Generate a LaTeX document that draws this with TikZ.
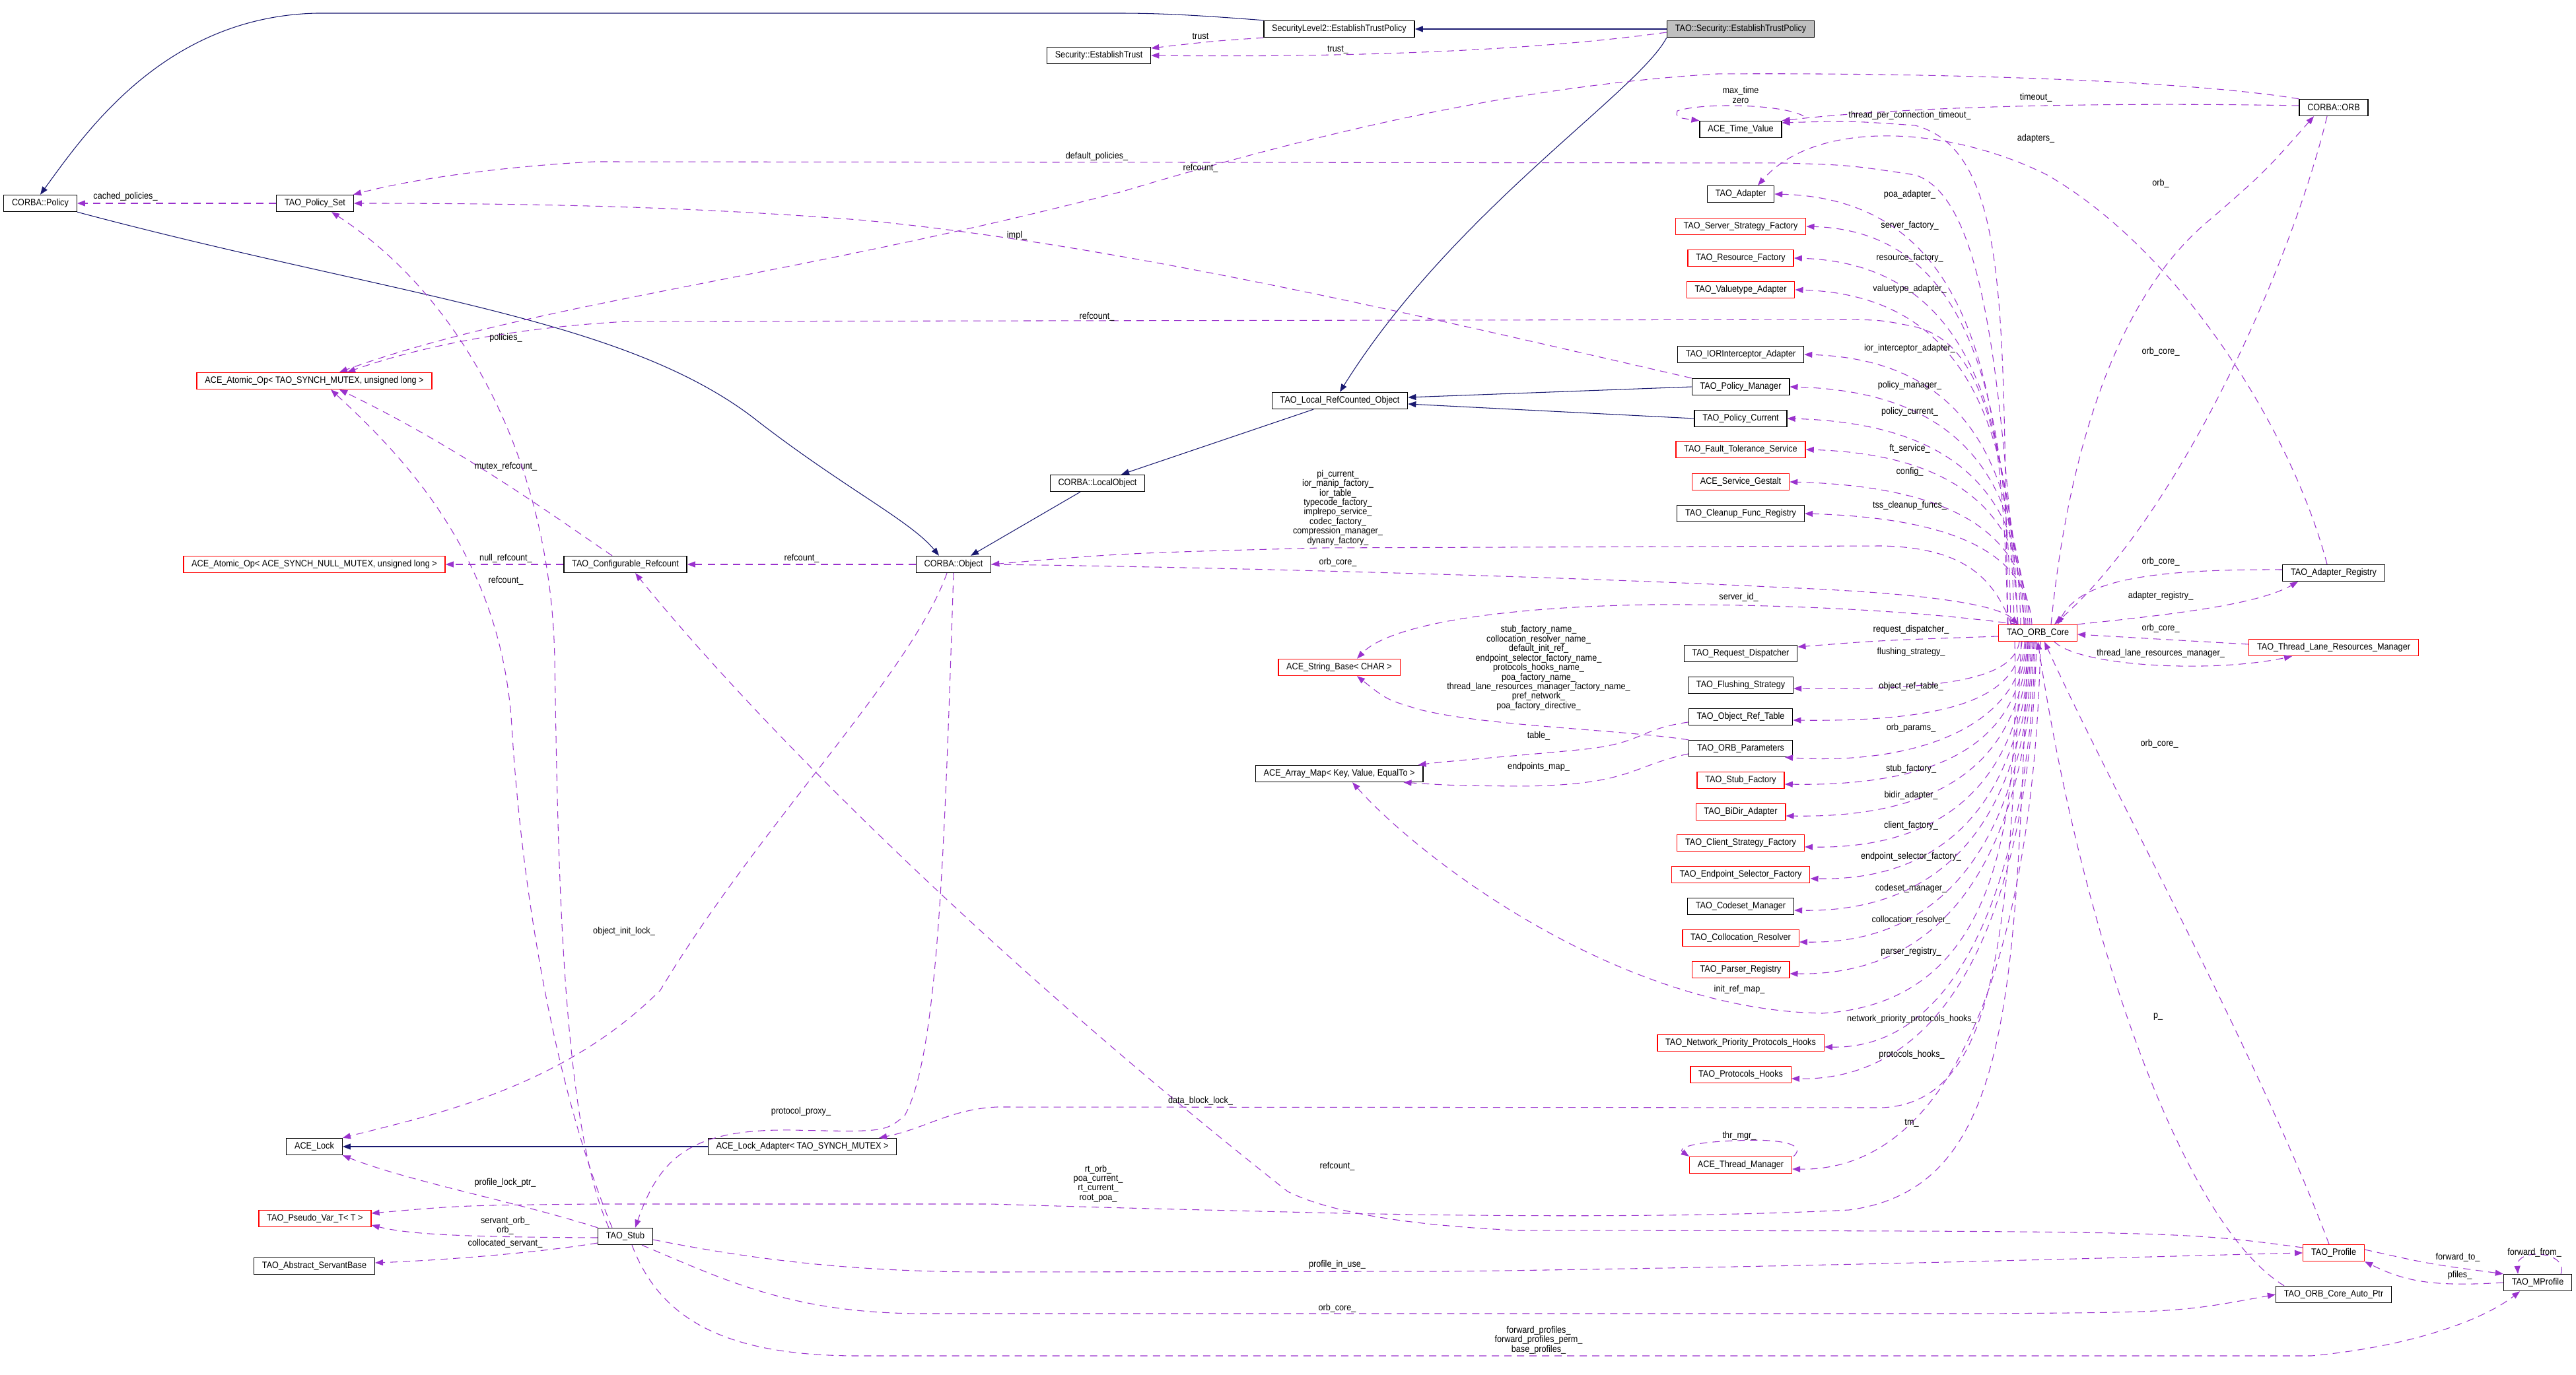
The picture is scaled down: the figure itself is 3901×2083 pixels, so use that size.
\documentclass[tikz,border=0pt]{standalone}
\usepackage{fontspec}
\setmainfont[FakeStretch=0.9]{Liberation Sans}
\usetikzlibrary{arrows.meta}
\definecolor{depc}{HTML}{9A32CD}
\definecolor{inhc}{HTML}{191970}
\newcommand\dxfont{\fontsize{4}{4.1}\selectfont}
\begin{document}
\begin{tikzpicture}[x=0.01cm,y=-0.01cm,
  box/.style={draw=black,line width=0.4pt,fill=white,font=\dxfont,inner xsep=3.5pt,inner ysep=0pt,minimum height=0.25cm},
  rbox/.style={box,draw=red},
  gbox/.style={box,fill=black!25},
  dep/.style={draw=depc,line width=0.3pt,dash pattern=on 0.11cm off 0.08cm,-{Triangle[length=0.12cm,width=0.09cm]}},
  inh/.style={draw=inhc,line width=0.3pt,-{Triangle[length=0.12cm,width=0.09cm]}},
  lbl/.style={font=\dxfont,inner sep=0pt,align=center}]
\useasboundingbox (0,0) rectangle (3901,2083);
% nodes
\node[box] (pol) at (61,308) {CORBA::Policy};
\node[box] (pset) at (477,308) {TAO\_Policy\_Set};
\node[rbox] (aoT) at (476,577) {ACE\_Atomic\_Op{<} TAO\_SYNCH\_MUTEX, unsigned long {>}};
\node[box] (sl2) at (2028,44) {SecurityLevel2::EstablishTrustPolicy};
\node[box] (setr) at (1664,84) {Security::EstablishTrust};
\node[gbox] (tsec) at (2636,44) {TAO::Security::EstablishTrustPolicy};
\node[box] (lrc) at (2029,607) {TAO\_Local\_RefCounted\_Object};
\node[box] (lobj) at (1662,732) {CORBA::LocalObject};
\node[box] (obj) at (1444,855) {CORBA::Object};
\node[box] (cref) at (947,855) {TAO\_Configurable\_Refcount};
\node[rbox] (aoN) at (476,855) {ACE\_Atomic\_Op{<} ACE\_SYNCH\_NULL\_MUTEX, unsigned long {>}};
\node[rbox] (strb) at (2028,1011) {ACE\_String\_Base{<} CHAR {>}};
\node[box] (amap) at (2028,1172) {ACE\_Array\_Map{<} Key, Value, EqualTo {>}};
\node[box] (lock) at (476,1737) {ACE\_Lock};
\node[box] (ladp) at (1215,1737) {ACE\_Lock\_Adapter{<} TAO\_SYNCH\_MUTEX {>}};
\node[rbox] (pvar) at (477,1846) {TAO\_Pseudo\_Var\_T{<} T {>}};
\node[box] (stub) at (947,1873) {TAO\_Stub};
\node[box] (asb) at (476,1918) {TAO\_Abstract\_ServantBase};
\node[box] (orb) at (3534,163) {CORBA::ORB};
\node[box] (tv) at (2636,196) {ACE\_Time\_Value};
\node[box] (adp) at (2636,294) {TAO\_Adapter};
\node[rbox] (ssf) at (2636,343) {TAO\_Server\_Strategy\_Factory};
\node[rbox] (rf) at (2636,391) {TAO\_Resource\_Factory};
\node[rbox] (vta) at (2636,439) {TAO\_Valuetype\_Adapter};
\node[box] (ioria) at (2636,537) {TAO\_IORInterceptor\_Adapter};
\node[box] (pm) at (2636,586) {TAO\_Policy\_Manager};
\node[box] (pc) at (2636,634) {TAO\_Policy\_Current};
\node[rbox] (fts) at (2636,681) {TAO\_Fault\_Tolerance\_Service};
\node[rbox] (sg) at (2636,730) {ACE\_Service\_Gestalt};
\node[box] (cfr) at (2636,778) {TAO\_Cleanup\_Func\_Registry};
\node[rbox] (core) at (3086,959) {TAO\_ORB\_Core};
\node[box] (areg) at (3534,868) {TAO\_Adapter\_Registry};
\node[rbox] (tlrm) at (3534,981) {TAO\_Thread\_Lane\_Resources\_Manager};
\node[box] (rd) at (2636,990) {TAO\_Request\_Dispatcher};
\node[box] (fs) at (2636,1038) {TAO\_Flushing\_Strategy};
\node[box] (ort) at (2636,1086) {TAO\_Object\_Ref\_Table};
\node[box] (orbp) at (2636,1134) {TAO\_ORB\_Parameters};
\node[rbox] (sf) at (2636,1182) {TAO\_Stub\_Factory};
\node[rbox] (bda) at (2636,1230) {TAO\_BiDir\_Adapter};
\node[rbox] (csf) at (2636,1277) {TAO\_Client\_Strategy\_Factory};
\node[rbox] (esf) at (2636,1325) {TAO\_Endpoint\_Selector\_Factory};
\node[box] (csm) at (2636,1373) {TAO\_Codeset\_Manager};
\node[rbox] (cres) at (2636,1421) {TAO\_Collocation\_Resolver};
\node[rbox] (preg) at (2636,1469) {TAO\_Parser\_Registry};
\node[rbox] (npph) at (2636,1580) {TAO\_Network\_Priority\_Protocols\_Hooks};
\node[rbox] (phk) at (2636,1628) {TAO\_Protocols\_Hooks};
\node[rbox] (thm) at (2636,1765) {ACE\_Thread\_Manager};
\node[rbox] (prof) at (3534,1898) {TAO\_Profile};
\node[box] (cap) at (3534,1961) {TAO\_ORB\_Core\_Auto\_Ptr};
\node[box] (mprof) at (3843,1943) {TAO\_MProfile};
% inheritance
\draw[inh] (tsec) -- (sl2);
\draw[inh] (sl2.north west) .. controls (1800,22) and (1750,20) .. (1690,20) -- (480,20) .. controls (250,25) and (130,200) .. (pol.north);
\draw[inh] (tsec.south west) .. controls (2480,140) and (2200,320) .. (lrc.north);
\draw[inh] (pol.south east) .. controls (600,450) and (950,480) .. (1150,640) .. controls (1280,740) and (1380,790) .. ([xshift=-0.22cm]obj.north);
\draw[inh] (pm.west) -- ([yshift=0.05cm]lrc.east);
\draw[inh] (pc.west) -- ([yshift=-0.05cm]lrc.east);
\draw[inh] ([xshift=-0.4cm]lrc.south) -- ([xshift=0.36cm]lobj.north);
\draw[inh] ([xshift=-0.26cm]lobj.south) -- ([xshift=0.26cm]obj.north);
\draw[inh] (ladp.west) -- (lock.east);
% dependencies
\draw[dep] (sl2.south west) .. controls (1840,62) .. ([yshift=0.11cm]setr.east);
\node[lbl] at (1818,55) {trust};
\draw[dep] ([yshift=-0.05cm]tsec.west) .. controls (2300,80) and (2000,87) .. (setr.east);
\node[lbl] at (2026,75) {trust\_};
\draw[dep] (pset.west) -- (pol.east);
\node[lbl] at (190,298) {cached\_policies\_};
\draw[dep] ([xshift=-0.3cm]core.north) .. controls (3030,600) and (3010,300) .. (2900,265) .. controls (2800,250) .. (2700,247) -- (900,245) .. controls (800,250) and (650,265) .. ([xshift=0.58cm]pset.north);
\node[lbl] at (1661,237) {default\_policies\_};
\draw[dep] (pm.north west) .. controls (2200,490) and (1700,370) .. (1300,333) .. controls (1100,318) and (900,308) .. (pset.east);
\node[lbl] at (1540,357) {impl\_};
\draw[dep] (orb.north west) .. controls (3300,120) and (2900,110) .. (2600,112) .. controls (2300,130) and (2000,200) .. (1700,290) .. controls (1200,420) and (800,460) .. ([xshift=0.38cm]aoT.north);
\node[lbl] at (1818,255) {refcount\_};
\draw[dep] ([xshift=-0.2cm]core.north) .. controls (3030,650) and (3000,520) .. (2900,495) .. controls (2850,485) .. (2800,484) -- (950,487) .. controls (800,495) and (650,520) .. ([xshift=0.5cm]aoT.north);
\node[lbl] at (1661,480) {refcount\_};
\draw[dep] ([xshift=-0.2cm]cref.north) .. controls (850,790) and (700,680) .. ([xshift=0.38cm]aoT.south);
\node[lbl] at (766,707) {mutex\_refcount\_};
\draw[dep] ([xshift=-0.2cm]stub.north) .. controls (840,1650) and (790,1350) .. (775,1100) .. controls (760,850) and (620,700) .. ([xshift=0.25cm]aoT.south);
\node[lbl] at (766,880) {refcount\_};
\draw[dep] (cref.west) -- (aoN.east);
\node[lbl] at (766,846) {null\_refcount\_};
\draw[dep] (obj.west) -- (cref.east);
\node[lbl] at (1214,846) {refcount\_};
\draw[dep] ([yshift=0.08cm]prof.west) .. controls (3300,1865) .. (2300,1864) .. controls (2100,1855) and (2000,1830) .. (1950,1805) .. controls (1500,1450) and (1150,1100) .. ([xshift=0.15cm]cref.south);
\node[lbl] at (2025,1767) {refcount\_};
\draw[dep] ([xshift=-0.4cm]core.north) .. controls (3020,880) and (2980,830) .. (2850,827) -- (2000,830) .. controls (1700,838) .. (obj.east);
\node[lbl] at (2026,769) {pi\_current\_\\ior\_manip\_factory\_\\ior\_table\_\\typecode\_factory\_\\implrepo\_service\_\\codec\_factory\_\\compression\_manager\_\\dynany\_factory\_};
\draw[dep] (obj.east) .. controls (1900,860) and (2400,875) .. (2700,890) .. controls (2950,900) and (3030,920) .. ([xshift=-0.3cm]core.north);
\node[lbl] at (2026,852) {orb\_core\_};
\draw[dep] ([xshift=0.3cm]core.north west) .. controls (2900,925) and (2700,915) .. (2500,916) .. controls (2250,920) and (2100,950) .. ([xshift=0.27cm]strb.north);
\node[lbl] at (2633,905) {server\_id\_};
\draw[dep] (orbp.north west) .. controls (2450,1105) and (2250,1100) .. (2150,1075) .. controls (2100,1060) .. ([xshift=0.27cm]strb.south);
\node[lbl] at (2330,1012) {stub\_factory\_name\_\\collocation\_resolver\_name\_\\default\_init\_ref\_\\endpoint\_selector\_factory\_name\_\\protocols\_hooks\_name\_\\poa\_factory\_name\_\\thread\_lane\_resources\_manager\_factory\_name\_\\pref\_network\_\\poa\_factory\_directive\_};
\draw[dep] ([yshift=-0.08cm]ort.west) .. controls (2480,1105) and (2490,1125) .. (2400,1135) .. controls (2300,1145) and (2200,1152) .. ([xshift=-0.08cm]amap.north east);
\node[lbl] at (2330,1115) {table\_};
\draw[dep] ([yshift=-0.08cm]orbp.west) .. controls (2470,1160) and (2470,1190) .. (2300,1191) .. controls (2200,1190) .. ([xshift=-0.3cm]amap.south east);
\node[lbl] at (2330,1162) {endpoints\_map\_};
\draw[dep] ([xshift=-0.35cm]core.south) .. controls (3060,1300) and (3000,1520) .. (2760,1535) .. controls (2450,1530) and (2150,1300) .. ([xshift=0.2cm]amap.south);
\node[lbl] at (2634,1499) {init\_ref\_map\_};
\draw[dep] ([xshift=-0.1cm]obj.south) .. controls (1380,1020) and (1150,1250) .. (1000,1500) .. controls (850,1650) and (650,1690) .. (lock.north east);
\node[lbl] at (945,1411) {object\_init\_lock\_};
\draw[dep] (stub.north west) .. controls (780,1820) and (620,1790) .. (lock.south east);
\node[lbl] at (765,1792) {profile\_lock\_ptr\_};
\draw[dep] ([xshift=-0.25cm]core.south) .. controls (3040,1400) and (3030,1670) .. (2850,1678) -- (1510,1677) .. controls (1440,1680) and (1400,1710) .. ([xshift=1.16cm]ladp.north);
\node[lbl] at (1818,1668) {data\_block\_lock\_};
\draw[dep] (obj.south) .. controls (1430,1300) and (1420,1600) .. (1370,1690) .. controls (1340,1715) .. (1200,1712) .. controls (1050,1710) and (1000,1750) .. ([xshift=0.15cm]stub.north);
\node[lbl] at (1213,1684) {protocol\_proxy\_};
\draw[dep] ([xshift=-0.15cm]core.south) .. controls (3050,1500) and (3050,1800) .. (2800,1833) .. controls (2500,1848) and (2100,1840) .. (1950,1836) .. controls (1700,1830) .. (1500,1824) -- (900,1824) .. controls (700,1826) .. ([yshift=0.08cm]pvar.east);
\node[lbl] at (1663,1793) {rt\_orb\_\\poa\_current\_\\rt\_current\_\\root\_poa\_};
\draw[dep] ([yshift=-0.02cm]stub.west) .. controls (700,1874) and (620,1870) .. ([yshift=-0.1cm]pvar.east);
\node[lbl] at (765,1857) {servant\_orb\_\\orb\_};
\draw[dep] ([yshift=-0.1cm]stub.west) .. controls (800,1900) and (650,1910) .. ([yshift=0.05cm]asb.east);
\node[lbl] at (765,1884) {collocated\_servant\_};
\draw[dep] ([yshift=-0.05cm]stub.east) .. controls (1150,1910) and (1300,1927) .. (1500,1927) -- (2200,1926) .. controls (2800,1918) and (3200,1905) .. (prof.west);
\node[lbl] at (2025,1916) {profile\_in\_use\_};
\draw[dep] ([xshift=0.25cm]stub.south) .. controls (1100,1940) and (1200,1990) .. (1400,1990) -- (3000,1990) .. controls (3300,1988) .. (cap.west);
\node[lbl] at (2025,1982) {orb\_core\_};
\draw[dep] ([xshift=0.1cm]stub.south) .. controls (1000,2000) and (1100,2054) .. (1300,2054) -- (3500,2054) .. controls (3650,2040) and (3760,2000) .. ([xshift=-0.27cm]mprof.south);
\node[lbl] at (2330,2030) {forward\_profiles\_\\forward\_profiles\_perm\_\\base\_profiles\_};
\draw[dep] ([yshift=0.05cm]prof.east) .. controls (3680,1915) .. (mprof.north west);
\node[lbl] at (3722,1905) {forward\_to\_};
\draw[dep] (mprof.west) .. controls (3680,1950) and (3640,1940) .. (prof.south east);
\node[lbl] at (3725,1932) {pfiles\_};
\draw[dep] ([xshift=0.35cm]mprof.north) .. controls (3890,1895) and (3810,1890) .. ([xshift=-0.3cm]mprof.north);
\node[lbl] at (3838,1898) {forward\_from\_};
\draw[dep] ([xshift=0.95cm,yshift=0.07cm]tv.north) .. controls (2700,158) and (2580,155) .. (2540,168) .. controls (2538,178) .. (tv.north west);
\node[lbl] at (2636,144) {max\_time\\zero};
\draw[dep] ([yshift=0.03cm]orb.west) .. controls (3200,155) and (2900,160) .. (tv.north east);
\node[lbl] at (3083,148) {timeout\_};
\draw[dep] ([xshift=-0.45cm]core.north) .. controls (3030,500) and (3050,230) .. (2900,190) .. controls (2800,183) .. ([yshift=0.1cm]tv.east);
\node[lbl] at (2892,175) {thread\_per\_connection\_timeout\_};
\draw[dep] ([xshift=-0.1cm]areg.north) .. controls (3470,650) and (3300,380) .. (3100,265) .. controls (2950,190) and (2750,180) .. ([xshift=0.26cm]adp.north);
\node[lbl] at (3083,210) {adapters\_};
% ORB core -> upper column
\draw[dep] (3040,947) .. controls (3035,588) and (2990,302) .. (adp.east);
\node[lbl] at (2892,295) {poa\_adapter\_};
\draw[dep] (3045,947) .. controls (3040,615) and (2990,351) .. (ssf.east);
\node[lbl] at (2892,342) {server\_factory\_};
\draw[dep] (3050,947) .. controls (3045,641) and (2990,399) .. (rf.east);
\node[lbl] at (2892,391) {resource\_factory\_};
\draw[dep] (3055,947) .. controls (3050,668) and (2990,447) .. (vta.east);
\node[lbl] at (2892,438) {valuetype\_adapter\_};
\draw[dep] (3060,947) .. controls (3055,722) and (2990,545) .. (ioria.east);
\node[lbl] at (2892,528) {ior\_interceptor\_adapter\_};
\draw[dep] (3065,947) .. controls (3060,749) and (2990,594) .. (pm.east);
\node[lbl] at (2892,584) {policy\_manager\_};
\draw[dep] (3068,947) .. controls (3063,775) and (2990,642) .. (pc.east);
\node[lbl] at (2892,624) {policy\_current\_};
\draw[dep] (3071,947) .. controls (3066,801) and (2990,689) .. (fts.east);
\node[lbl] at (2892,680) {ft\_service\_};
\draw[dep] (3074,947) .. controls (3069,828) and (2990,738) .. (sg.east);
\node[lbl] at (2892,715) {config\_};
\draw[dep] (3077,947) .. controls (3072,854) and (2990,786) .. (cfr.east);
\node[lbl] at (2892,766) {tss\_cleanup\_funcs\_};
% ORB core -> lower column
\draw[dep] ([yshift=-0.05cm]core.west) .. controls (2850,970) .. ([yshift=0.1cm]rd.east);
\node[lbl] at (2894,954) {request\_dispatcher\_};
\draw[dep] (3058,972) .. controls (3050,1025) and (2960,1046) .. ([yshift=-0.05cm]fs.east);
\node[lbl] at (2894,988) {flushing\_strategy\_};
\draw[dep] (3062,972) .. controls (3054,1049) and (2975,1094) .. ([yshift=-0.05cm]ort.east);
\node[lbl] at (2894,1040) {object\_ref\_table\_};
\draw[dep] (3066,972) .. controls (3060,1100) and (2900,1160) .. ([xshift=-0.12cm]orbp.south east);
\node[lbl] at (2894,1103) {orb\_params\_};
\draw[dep] (3068,972) .. controls (3060,1097) and (2980,1192) .. ([yshift=-0.06cm]sf.east);
\node[lbl] at (2894,1165) {stub\_factory\_};
\draw[dep] (3070,972) .. controls (3062,1121) and (2980,1240) .. ([yshift=-0.06cm]bda.east);
\node[lbl] at (2894,1205) {bidir\_adapter\_};
\draw[dep] (3072,972) .. controls (3064,1145) and (2980,1287) .. ([yshift=-0.06cm]csf.east);
\node[lbl] at (2894,1251) {client\_factory\_};
\draw[dep] (3074,972) .. controls (3066,1168) and (2980,1335) .. ([yshift=-0.06cm]esf.east);
\node[lbl] at (2894,1298) {endpoint\_selector\_factory\_};
\draw[dep] (3076,972) .. controls (3068,1192) and (2980,1383) .. ([yshift=-0.06cm]csm.east);
\node[lbl] at (2894,1346) {codeset\_manager\_};
\draw[dep] (3078,972) .. controls (3070,1216) and (2980,1431) .. ([yshift=-0.06cm]cres.east);
\node[lbl] at (2894,1394) {collocation\_resolver\_};
\draw[dep] (3080,972) .. controls (3072,1240) and (2980,1479) .. ([yshift=-0.06cm]preg.east);
\node[lbl] at (2894,1442) {parser\_registry\_};
\draw[dep] (3082,972) .. controls (3074,1296) and (2980,1590) .. ([yshift=-0.06cm]npph.east);
\node[lbl] at (2895,1544) {network\_priority\_protocols\_hooks\_};
\draw[dep] (3084,972) .. controls (3076,1320) and (2980,1638) .. ([yshift=-0.06cm]phk.east);
\node[lbl] at (2895,1598) {protocols\_hooks\_};
\draw[dep] (3090,972) .. controls (3082,1389) and (2980,1775) .. ([yshift=-0.06cm]thm.east);
\node[lbl] at (2895,1701) {tm\_};
\draw[dep] ([xshift=0.8cm]thm.north) .. controls (2740,1730) and (2680,1725) .. (2630,1728) .. controls (2560,1730) and (2540,1740) .. (thm.north west);
\node[lbl] at (2634,1721) {thr\_mgr\_};
% ORB core <-> right side
\draw[dep] ([yshift=0.05cm]areg.west) .. controls (3250,862) and (3150,880) .. ([xshift=0.3cm]core.north);
\node[lbl] at (3272,851) {orb\_core\_};
\draw[dep] (core.north east) .. controls (3300,930) and (3420,915) .. ([xshift=-0.54cm]areg.south);
\node[lbl] at (3272,903) {adapter\_registry\_};
\draw[dep] ([yshift=0.05cm]tlrm.west) .. controls (3300,970) .. ([yshift=-0.02cm]core.east);
\node[lbl] at (3272,952) {orb\_core\_};
\draw[dep] ([xshift=0.25cm]core.south) .. controls (3150,1010) and (3350,1020) .. ([xshift=-0.63cm]tlrm.south);
\node[lbl] at (3272,990) {thread\_lane\_resources\_manager\_};
\draw[dep] ([xshift=0.2cm]core.north) .. controls (3130,700) and (3200,450) .. (3350,330) .. controls (3430,260) .. ([xshift=-0.3cm]orb.south);
\node[lbl] at (3272,278) {orb\_};
\draw[dep] ([xshift=-0.1cm]orb.south) .. controls (3470,400) and (3300,780) .. ([xshift=0.25cm]core.north);
\node[lbl] at (3272,533) {orb\_core\_};
\draw[dep] ([xshift=-0.07cm]prof.north) .. controls (3420,1600) and (3200,1200) .. ([xshift=0.1cm]core.south);
\node[lbl] at (3270,1127) {orb\_core\_};
\draw[dep] ([xshift=-0.75cm]cap.north) .. controls (3300,1850) and (3150,1400) .. (core.south);
\node[lbl] at (3268,1540) {p\_};
\draw[dep] ([xshift=-0.25cm]stub.north) .. controls (850,1700) and (845,1300) .. (840,1000) .. controls (835,700) and (700,450) .. ([xshift=0.25cm]pset.south);
\node[lbl] at (766,512) {policies\_};
\end{tikzpicture}
\end{document}
